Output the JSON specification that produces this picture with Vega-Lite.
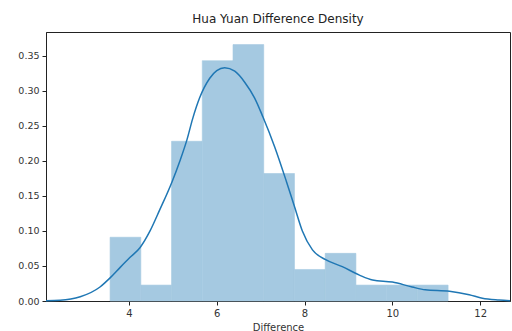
{
  "$schema": "https://vega.github.io/schema/vega-lite/v6.json",
  "autosize": {"type": "none"},
  "width": 464,
  "height": 269,
  "padding": {"left": 46, "top": 32, "right": 2, "bottom": 30},
  "title": {"text": "Hua Yuan Difference Density", "fontSize": 12, "fontWeight": "normal", "font": "DejaVu Sans", "color": "#222", "offset": 6},
  "config": {
    "view": {"stroke": "#222", "strokeWidth": 1},
    "axis": {"grid": false, "domainColor": "#222", "tickColor": "#222", "labelColor": "#333", "labelFont": "DejaVu Sans", "labelFontSize": 10, "tickSize": 4, "titleFont": "DejaVu Sans", "titleFontWeight": "normal", "titleFontSize": 10, "titleColor": "#333"}
  },
  "layer": [
    {
      "data": {"values": [
        {"start": 3.57, "end": 4.27, "density": 0.091},
        {"start": 4.27, "end": 4.97, "density": 0.0227},
        {"start": 4.97, "end": 5.67, "density": 0.228},
        {"start": 5.67, "end": 6.37, "density": 0.343},
        {"start": 6.37, "end": 7.07, "density": 0.366},
        {"start": 7.07, "end": 7.77, "density": 0.182},
        {"start": 7.77, "end": 8.47, "density": 0.045},
        {"start": 8.47, "end": 9.17, "density": 0.068},
        {"start": 9.17, "end": 9.87, "density": 0.0227},
        {"start": 9.87, "end": 10.57, "density": 0.0227},
        {"start": 10.57, "end": 11.27, "density": 0.0227}
      ]},
      "mark": {"type": "rect", "color": "#a5c9e1", "stroke": "#a5c9e1", "strokeWidth": 0.6},
      "encoding": {
        "x": {"field": "start", "type": "quantitative", "scale": {"domain": [2.11, 12.68], "nice": false, "zero": false},
              "axis": {"values": [4, 6, 8, 10, 12], "title": "Difference", "titlePadding": 4, "labelPadding": 3}},
        "x2": {"field": "end"},
        "y": {"field": "density", "type": "quantitative", "scale": {"domain": [0, 0.384], "nice": false},
              "axis": {"values": [0, 0.05, 0.1, 0.15, 0.2, 0.25, 0.3, 0.35], "format": ".2f", "title": null, "labelPadding": 3, "labelOverlap": false, "labelFontSize": 9.5}},
        "y2": {"datum": 0}
      }
    },
    {
      "data": {"values": [
        {"x": 2.11, "d": 0.0005},
        {"x": 2.43, "d": 0.001},
        {"x": 2.89, "d": 0.006},
        {"x": 3.34, "d": 0.02},
        {"x": 3.57, "d": 0.033},
        {"x": 3.8, "d": 0.048},
        {"x": 4.02, "d": 0.062},
        {"x": 4.25, "d": 0.076},
        {"x": 4.48, "d": 0.1},
        {"x": 4.7, "d": 0.13},
        {"x": 4.98, "d": 0.17},
        {"x": 5.16, "d": 0.2},
        {"x": 5.32, "d": 0.23},
        {"x": 5.45, "d": 0.26},
        {"x": 5.61, "d": 0.29},
        {"x": 5.84, "d": 0.318},
        {"x": 6.0, "d": 0.329},
        {"x": 6.18, "d": 0.333},
        {"x": 6.41, "d": 0.328},
        {"x": 6.64, "d": 0.312},
        {"x": 6.86, "d": 0.29},
        {"x": 7.05, "d": 0.263},
        {"x": 7.32, "d": 0.22},
        {"x": 7.59, "d": 0.17},
        {"x": 7.77, "d": 0.135},
        {"x": 7.95, "d": 0.1},
        {"x": 8.18, "d": 0.073},
        {"x": 8.48, "d": 0.059},
        {"x": 8.86, "d": 0.049},
        {"x": 9.25, "d": 0.037},
        {"x": 9.55, "d": 0.03},
        {"x": 10.0, "d": 0.027},
        {"x": 10.45, "d": 0.02},
        {"x": 10.75, "d": 0.016},
        {"x": 11.3, "d": 0.014},
        {"x": 11.75, "d": 0.009},
        {"x": 12.05, "d": 0.004},
        {"x": 12.43, "d": 0.0015},
        {"x": 12.68, "d": 0.0005}
      ]},
      "mark": {"type": "line", "color": "#1f77b4", "strokeWidth": 1.5, "interpolate": "monotone"},
      "encoding": {
        "x": {"field": "x", "type": "quantitative",
              "axis": {"values": [4, 6, 8, 10, 12], "title": "Difference", "titlePadding": 4, "labelPadding": 3}},
        "y": {"field": "d", "type": "quantitative",
              "axis": {"values": [0, 0.05, 0.1, 0.15, 0.2, 0.25, 0.3, 0.35], "format": ".2f", "title": null, "labelPadding": 3, "labelOverlap": false, "labelFontSize": 9.5}}
      }
    }
  ]
}
